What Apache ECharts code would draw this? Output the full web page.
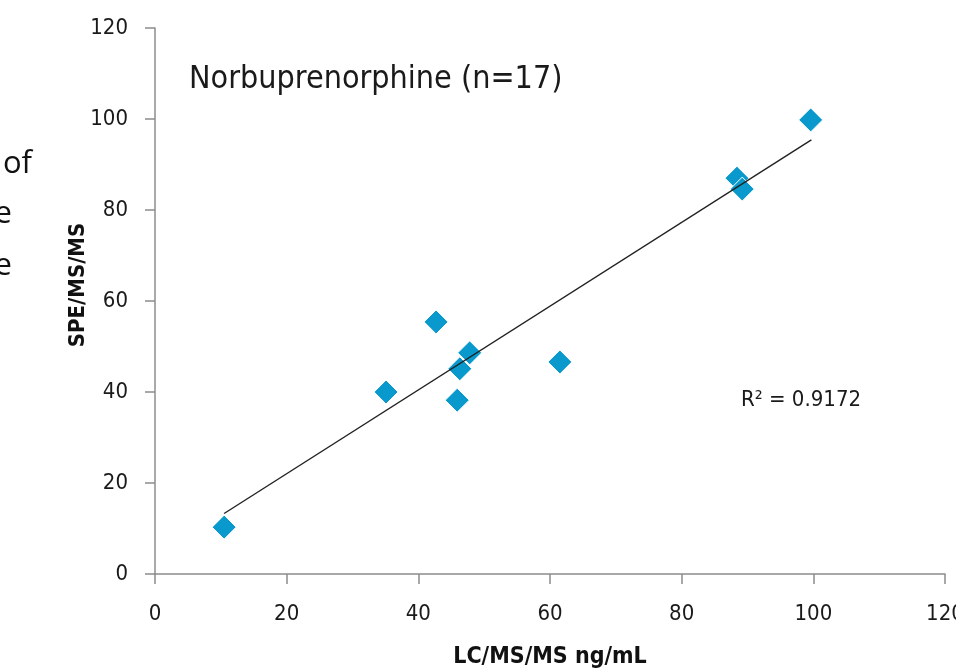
<!DOCTYPE html>
<html>
<head>
    <meta charset="utf-8" />
    <title>Norbuprenorphine</title>
    <script type="text/javascript" src="https://cdn.jsdelivr.net/npm/echarts@6/dist/echarts.min.js"></script>
    <style>
        html, body { margin: 0; padding: 0; background: #fff; }
        #main { width: 956px; height: 669px; }
    </style>
</head>
<body>
    <div id="main"></div>
    <script type="text/javascript">
        // values
        var lcms = [10.5, 35.1, 42.7, 46.3, 45.9, 47.8, 61.5, 88.4, 89.2, 99.6];
        var spe  = [10.3, 40.0, 55.4, 45.1, 38.2, 48.6, 46.6, 87.0, 84.6, 99.8];
        // linear trend line ends
        var trendX = [10.5, 99.7];
        var trendY = [13.3, 95.4];

        var narrow = '"Liberation Sans Narrow", "DejaVu Sans Condensed", sans-serif';

        var points = lcms.map(function (x, i) { return [x, spe[i]]; });
        var trend = trendX.map(function (x, i) { return [x, trendY[i]]; });

        function axis(margin) {
            return {
                type: 'value',
                min: 0,
                max: 120,
                interval: 20,
                splitLine: { show: false },
                axisLine: { lineStyle: { color: '#8c8c8c', width: 1.5 } },
                axisTick: { show: true, inside: false, length: 10, lineStyle: { color: '#8c8c8c', width: 1.5 } },
                axisLabel: { color: '#1a1a1a', fontSize: 22, fontFamily: narrow, margin: margin }
            };
        }

        var myChart = echarts.init(document.getElementById('main'));
        myChart.setOption({
            animation: false,
            grid: { left: 155, right: 11, top: 28, bottom: 95, containLabel: false, outerBoundsMode: 'none' },
            xAxis: axis(29),
            yAxis: axis(27),
            series: [
                {
                    type: 'line',
                    data: trend,
                    symbol: 'none',
                    lineStyle: { color: '#222', width: 1.4 },
                    z: 3
                },
                {
                    type: 'scatter',
                    data: points,
                    symbol: 'diamond',
                    symbolSize: 24,
                    itemStyle: { color: '#0a99cc', opacity: 1, borderColor: '#fff', borderWidth: 1 },
                    z: 2
                }
            ],
            graphic: [
                { type: 'text', left: 189, top: 64, style: { text: 'Norbuprenorphine (n=17)', fontSize: 32, fontFamily: narrow, fill: '#1a1a1a' } },
                { type: 'text', left: 741, top: 389, style: { text: 'R² = 0.9172', fontSize: 22, fontFamily: narrow, fill: '#1a1a1a' } },
                // axis titles
                { type: 'text', x: 550, y: 657, style: { text: 'LC/MS/MS ng/mL', fontSize: 23, fontWeight: 'bold', fontFamily: narrow, fill: '#111', align: 'center', verticalAlign: 'middle' } },
                { type: 'text', x: 78, y: 285, rotation: Math.PI / 2, style: { text: 'SPE/MS/MS', fontSize: 22, fontWeight: 'bold', fontFamily: narrow, fill: '#111', align: 'center', verticalAlign: 'middle' } },
                // slide text cut off at the left edge
                { type: 'text', x: 32, y: 164, style: { text: 'of', fontSize: 31, fontFamily: '"Open Sans", sans-serif', fill: '#111', align: 'right', verticalAlign: 'middle' } },
                { type: 'text', x: 12, y: 214, style: { text: 'e', fontSize: 31, fontFamily: '"Open Sans", sans-serif', fill: '#111', align: 'right', verticalAlign: 'middle' } },
                { type: 'text', x: 12, y: 266, style: { text: 'e', fontSize: 31, fontFamily: '"Open Sans", sans-serif', fill: '#111', align: 'right', verticalAlign: 'middle' } }
            ]
        });
    </script>
</body>
</html>
